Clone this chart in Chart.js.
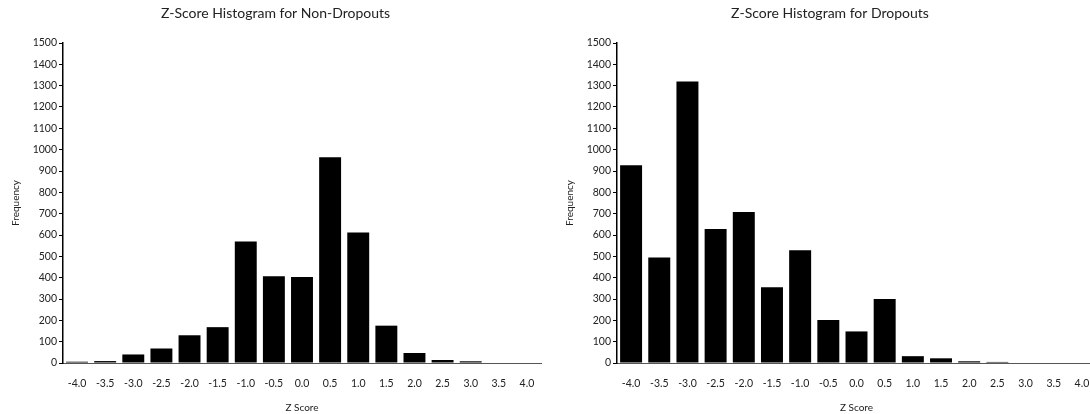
<!DOCTYPE html>
<html>
<head>
<meta charset="utf-8">
<script src="https://cdn.jsdelivr.net/npm/chart.js@4.4.1/dist/chart.umd.min.js"></script>
<style>
  html, body { margin: 0; padding: 0; background: #fff; overflow: hidden; }
  #wrap { display: flex; width: 1090px; height: 414px; overflow: hidden; }
  canvas { display: block; flex: none; }
</style>
</head>
<body>
<div id="wrap">
  <canvas id="c1" width="545" height="414"></canvas>
  <canvas id="c2" width="551" height="414"></canvas>
</div>
<script>
const categories = ["-4.0","-3.5","-3.0","-2.5","-2.0","-1.5","-1.0","-0.5","0.0","0.5","1.0","1.5","2.0","2.5","3.0","3.5","4.0"];
const nonDropouts = [6, 9, 40, 68, 130, 168, 570, 407, 403, 965, 612, 175, 47, 14, 8, 0, 0];
const dropouts = [927, 495, 1320, 628, 708, 355, 528, 202, 148, 300, 32, 22, 8, 5, 0, 0, 0];
const yTicks = [0,100,200,300,400,500,600,700,800,900,1000,1100,1200,1300,1400,1500];
const titles = ["Z-Score Histogram for Non-Dropouts", "Z-Score Histogram for Dropouts"];

const FONT = "Lato, 'Open Sans', sans-serif";
const TXT = "#222";

function makeChart(id, title, values, padLeft, yWidth, padRight) {
  return new Chart(document.getElementById(id), {
    type: 'bar',
    data: {
      labels: categories,
      datasets: [{
        data: values,
        backgroundColor: '#000',
        borderWidth: 0,
        barPercentage: 0.78,
        categoryPercentage: 1.0
      }]
    },
    options: {
      responsive: false,
      devicePixelRatio: 1,
      animation: false,
      layout: { padding: { left: padLeft, right: padRight, top: 0, bottom: 0 } },
      plugins: {
        legend: { display: false },
        tooltip: { enabled: false },
        title: {
          display: true,
          text: title,
          color: TXT,
          font: { family: FONT, size: 14, weight: 'normal' },
          padding: { top: 5, bottom: 21.2 }
        }
      },
      scales: {
        x: {
          grid: { display: false },
          border: { display: true, color: '#555', width: 1 },
          ticks: { color: TXT, font: { family: FONT, size: 10.5 }, padding: 6, maxRotation: 0, autoSkip: false },
          title: { display: true, text: 'Z Score', color: TXT, font: { family: FONT, size: 10 }, padding: { top: 10, bottom: 0 } },
          afterFit: s => { s.height = 51; }
        },
        y: {
          min: 0, max: 1500,
          afterBuildTicks: s => { s.ticks = yTicks.map(v => ({ value: v })); },
          grid: { display: true, drawOnChartArea: false, drawTicks: true, tickLength: 4, color: '#000', lineWidth: 1 },
          border: { display: true, color: '#000', width: 1.5 },
          ticks: { color: TXT, font: { family: FONT, size: 10.5 }, padding: 2, callback: v => String(v) },
          title: { display: true, text: 'Frequency', color: TXT, font: { family: FONT, size: 10 }, padding: { top: 0, bottom: 6 } },
          afterFit: s => { s.width = yWidth; }
        }
      }
    }
  });
}

makeChart('c1', titles[0], nonDropouts, 10, 53, 4);
makeChart('c2', titles[1], dropouts, 19, 53, 0);
</script>
</body>
</html>
